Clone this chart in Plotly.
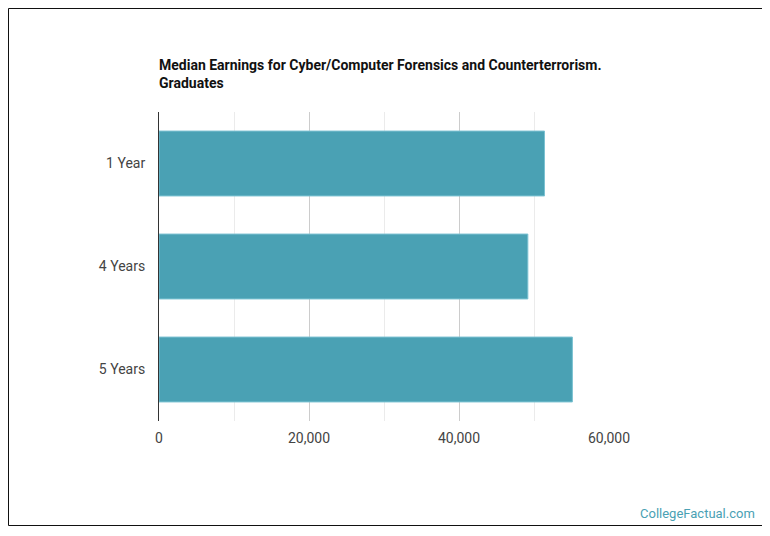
import plotly.graph_objects as go

# values
categories = ["1 Year", "4 Years", "5 Years"]
earnings = [51400, 49180, 55120]
tick_vals = [0, 20000, 40000, 60000]
tick_text = ["0", "20,000", "40,000", "60,000"]

title_text = "Median Earnings for Cyber/Computer Forensics and Counterterrorism.<br>Graduates"

fig = go.Figure()

fig.add_trace(go.Bar(
    x=earnings,
    y=categories,
    orientation="h",
    marker=dict(color="#4aa1b4", line=dict(color="#7cc2d2", width=1)),
    hoverinfo="x+y",
))

# the page body adds an 8px offset, so the figure is sized to sit inside it
fig.update_layout(
    width=755,
    height=518,
    margin=dict(l=151, r=154, t=104, b=105),
    paper_bgcolor="white",
    plot_bgcolor="white",
    showlegend=False,
    bargap=0.37,
    font=dict(family="Roboto", size=14, color="#444444"),
    title=dict(
        text="<b>" + title_text + "</b>",
        xref="container", yref="container",
        x=151 / 755, y=1 - 62 / 518,
        xanchor="left", yanchor="top",
        font=dict(family="Roboto", size=14, color="#111111"),
    ),
    xaxis=dict(
        range=[0, 60000],
        tickvals=tick_vals,
        ticktext=tick_text,
        showgrid=True,
        gridcolor="#cccccc",
        gridwidth=1,
        zeroline=False,
        showline=False,
        ticks="",
        ticklabelstandoff=7,
        minor=dict(dtick=10000, showgrid=True, gridcolor="#ebebeb", gridwidth=1),
        fixedrange=True,
    ),
    yaxis=dict(
        autorange="reversed",
        showgrid=False,
        showline=True,
        linecolor="#333333",
        linewidth=1,
        ticks="",
        ticklabelstandoff=10,
        fixedrange=True,
    ),
    shapes=[dict(
        type="rect",
        xref="paper", yref="paper",
        xsizemode="pixel", ysizemode="pixel",
        xanchor=0, yanchor=0,
        x0=-150.5, x1=603.5, y0=-104.5, y1=412.5,
        line=dict(color="#111111", width=1),
        fillcolor="rgba(0,0,0,0)",
        layer="below",
    )],
    annotations=[dict(
        text="CollegeFactual.com",
        xref="paper", yref="paper",
        x=1, y=0,
        xshift=148, yshift=-92,
        xanchor="right", yanchor="middle",
        showarrow=False,
        font=dict(family="Roboto", size=13, color="#4aa1b4"),
    )],
)

fig.write_html("out.html")
